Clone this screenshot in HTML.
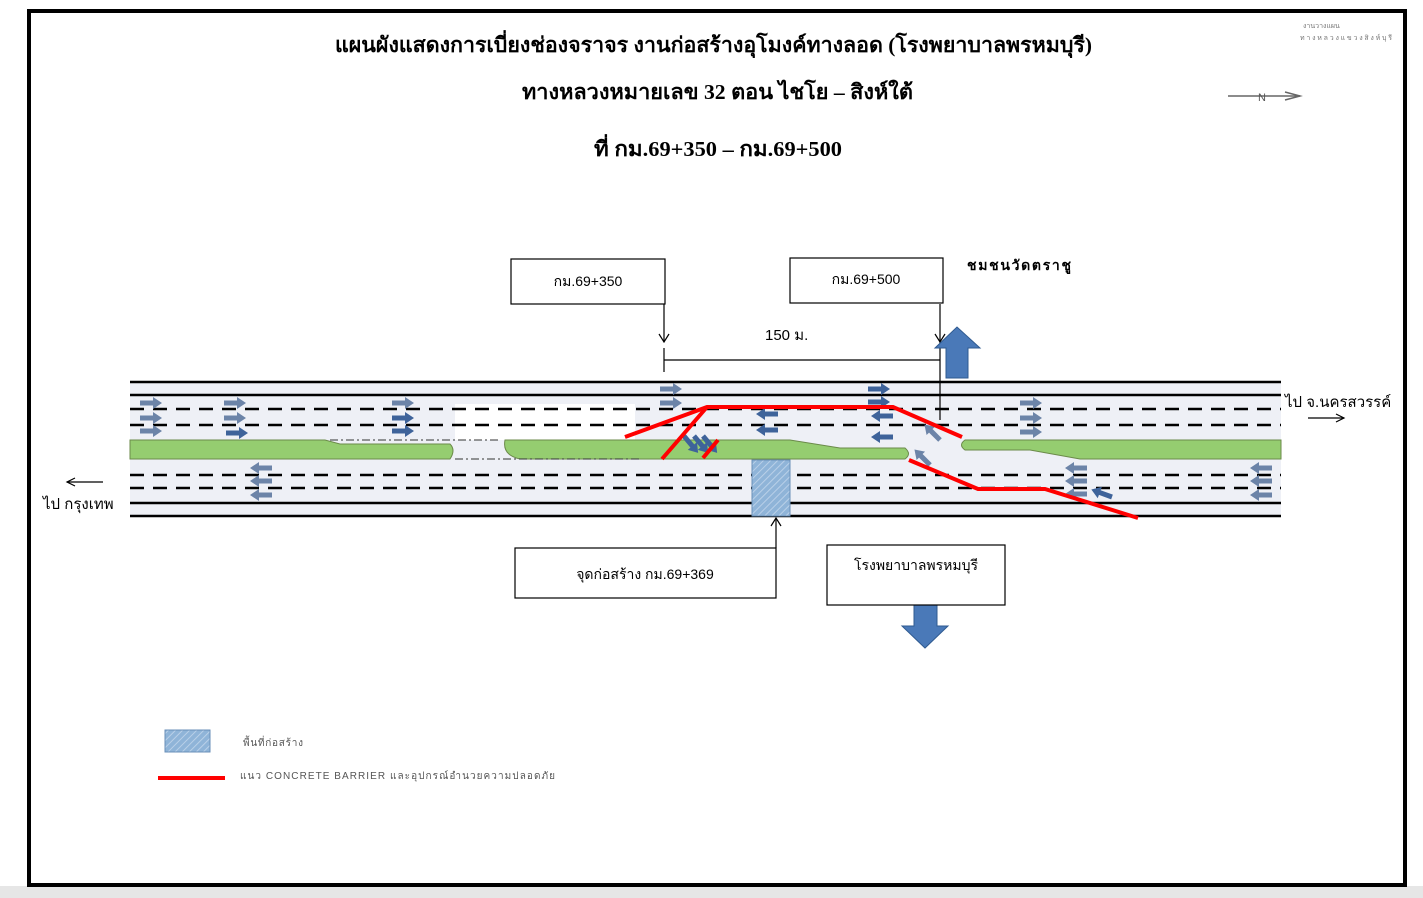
<!DOCTYPE html>
<html><head><meta charset="utf-8"><style>
html,body{margin:0;padding:0;background:#fff;}
svg{display:block;}
text{font-family:"Liberation Serif","Noto Serif CJK SC",serif;}
.s{font-family:"Liberation Sans","Noto Sans CJK SC",sans-serif;}
</style></head><body>
<svg width="1423" height="898" viewBox="0 0 1423 898" xmlns="http://www.w3.org/2000/svg">
<defs>
<path id="ar" d="M0,-2.5 H13 V-6 L22,0 L13,6 V2.5 H0 Z"/>
<pattern id="hatch" width="5" height="5" patternUnits="userSpaceOnUse" patternTransform="rotate(45)">
<rect width="5" height="5" fill="#8fb4d8"/><line x1="0" y1="0" x2="0" y2="5" stroke="#b9d0e8" stroke-width="2"/></pattern>
</defs>
<rect width="1423" height="898" fill="#fff"/>
<rect x="0" y="886" width="1423" height="12" fill="#e6e6e6"/>
<rect x="29" y="11" width="1376" height="874" fill="#fff" stroke="#000" stroke-width="4"/>

<text x="335" y="52" font-size="21" font-weight="bold" textLength="757" lengthAdjust="spacingAndGlyphs">แผนผังแสดงการเบี่ยงช่องจราจร งานก่อสร้างอุโมงค์ทางลอด (โรงพยาบาลพรหมบุรี)</text>
<text x="522" y="99" font-size="21" font-weight="bold" textLength="391" lengthAdjust="spacingAndGlyphs">ทางหลวงหมายเลข 32 ตอน ไชโย – สิงห์ใต้</text>
<text x="594" y="156" font-size="21" font-weight="bold" textLength="248" lengthAdjust="spacingAndGlyphs">ที่ กม.69+350 – กม.69+500</text>
<text x="1303" y="28" font-size="7" fill="#777">งานวางแผน</text>
<text x="1300" y="40" font-size="7" fill="#777" textLength="92">ทางหลวงแขวงสิงห์บุรี</text>
<g stroke="#666" stroke-width="1.5" fill="none"><line x1="1228" y1="96" x2="1300" y2="96"/><path d="M1285,92 L1300,96 L1285,100"/></g>
<text x="1258" y="101" class="s" font-size="11" fill="#555">N</text>

<rect x="130" y="382" width="1151" height="134" fill="#eef0f6"/>
<rect x="455" y="404" width="180" height="36" fill="#fff"/>
<g stroke="#000" stroke-width="2.5">
<line x1="130" y1="382" x2="1281" y2="382"/><line x1="130" y1="395" x2="1281" y2="395"/>
<line x1="130" y1="503" x2="1281" y2="503"/><line x1="130" y1="516" x2="1281" y2="516"/>
</g>
<g stroke="#000" stroke-width="2.5" stroke-dasharray="14,9">
<line x1="130" y1="409" x2="1281" y2="409"/><line x1="130" y1="425" x2="1281" y2="425"/>
<line x1="130" y1="475" x2="1281" y2="475"/><line x1="130" y1="488" x2="1281" y2="488"/>
</g>
<g fill="#95cd70" stroke="#6b8a4a" stroke-width="1">
<path d="M130,440 H325 L340,444 H450 Q456,450 450,459 H130 Z"/>
<path d="M505,440 H700 L790,440 L840,448 H905 Q912,454 905,459 H640 L520,459 Q502,455 505,440 Z"/>
<path d="M965,440 H1281 V459 H1080 L1030,450 H965 Q958,445 965,440 Z"/>
</g>
<g stroke="#333" stroke-width="1" stroke-dasharray="8,3,2,3"><line x1="330" y1="440" x2="500" y2="440"/><line x1="455" y1="459" x2="640" y2="459"/></g>
<rect x="752" y="460" width="38" height="56" fill="url(#hatch)" stroke="#6a8fb8"/>

<g fill="#6c84a8">
<use href="#ar" x="140" y="403"/><use href="#ar" x="140" y="418"/><use href="#ar" x="140" y="431"/>
<use href="#ar" x="224" y="403"/><use href="#ar" x="224" y="418"/>
<use href="#ar" x="392" y="403"/><use href="#ar" x="660" y="389"/><use href="#ar" x="660" y="403"/>
<use href="#ar" x="1020" y="403"/><use href="#ar" x="1020" y="418"/><use href="#ar" x="1020" y="432"/>
</g>
<g fill="#3e639a">
<use href="#ar" x="226" y="433"/><use href="#ar" x="392" y="418"/><use href="#ar" x="392" y="431"/>
<use href="#ar" x="868" y="389"/><use href="#ar" x="868" y="402"/>
</g>
<g fill="#6c84a8">
<use href="#ar" transform="translate(272,468) scale(-1,1)"/><use href="#ar" transform="translate(272,481) scale(-1,1)"/><use href="#ar" transform="translate(272,495) scale(-1,1)"/>
<use href="#ar" transform="translate(1087,468) scale(-1,1)"/><use href="#ar" transform="translate(1087,481) scale(-1,1)"/><use href="#ar" transform="translate(1087,494) scale(-1,1)"/>
<use href="#ar" transform="translate(1272,468) scale(-1,1)"/><use href="#ar" transform="translate(1272,481) scale(-1,1)"/><use href="#ar" transform="translate(1272,495) scale(-1,1)"/>
<use href="#ar" transform="translate(940,440) rotate(-135)"/><use href="#ar" transform="translate(930,465) rotate(-135)"/>
</g>
<g fill="#3e639a">
<use href="#ar" transform="translate(778,414) scale(-1,1)"/><use href="#ar" transform="translate(778,430) scale(-1,1)"/>
<use href="#ar" transform="translate(893,416) scale(-1,1)"/><use href="#ar" transform="translate(893,437) scale(-1,1)"/>
<use href="#ar" transform="translate(1112,497) rotate(-160)"/>
<use href="#ar" transform="translate(684,436) rotate(50)"/><use href="#ar" transform="translate(694,436) rotate(50)"/><use href="#ar" transform="translate(703,436) rotate(50)"/>
</g>
<g stroke="#f00" stroke-width="4" fill="none">
<polyline points="625,437 707,407 893,407 962,437"/>
<line x1="662" y1="459" x2="707" y2="407"/>
<line x1="703" y1="458" x2="718" y2="440"/>
<polyline points="909,460 978,489 1045,489 1138,518"/>
</g>

<g stroke="#000" stroke-width="1.2" fill="none">
<line x1="664" y1="304" x2="664" y2="342"/><path d="M659,334 L664,342 L669,334"/>
<line x1="664" y1="348" x2="664" y2="372"/><line x1="664" y1="360" x2="940" y2="360"/>
<line x1="940" y1="304" x2="940" y2="420"/><path d="M935,334 L940,342 L945,334"/>
<line x1="776" y1="548" x2="776" y2="518"/><path d="M771,526 L776,518 L781,526"/>
<line x1="1308" y1="418" x2="1344" y2="418"/><path d="M1336,414 L1344,418 L1336,422"/>
<line x1="67" y1="482" x2="103" y2="482"/><path d="M75,478 L67,482 L75,486"/>
</g>
<text x="765" y="340" class="s" font-size="15">150 ม.</text>

<path d="M946,378 V348 H935 L957,327 L980,348 H968 V378 Z" fill="#4a79b8" stroke="#2f5a90"/>
<path d="M914,605 V626 H902 L925,648 L948,626 H937 V605 Z" fill="#4a79b8" stroke="#2f5a90"/>

<g fill="#fff" stroke="#000" stroke-width="1.2">
<rect x="511" y="259" width="154" height="45"/><rect x="790" y="258" width="153" height="45"/>
<rect x="515" y="548" width="261" height="50"/><rect x="827" y="545" width="178" height="60"/>
</g>
<g font-size="14">
<text x="588" y="286" text-anchor="middle" class="s">กม.69+350</text>
<text x="866" y="284" text-anchor="middle" class="s">กม.69+500</text>
<text x="645" y="579" text-anchor="middle" class="s">จุดก่อสร้าง กม.69+369</text>
<text x="916" y="570" text-anchor="middle" class="s">โรงพยาบาลพรหมบุรี</text>
<text x="967" y="270" class="s" font-weight="bold" textLength="104">ชมชนวัดตราชู</text>
<text x="1285" y="407" class="s" font-size="15">ไป จ.นครสวรรค์</text>
<text x="43" y="509" class="s" font-size="15">ไป กรุงเทพ</text>
</g>

<rect x="165" y="730" width="45" height="22" fill="url(#hatch)" stroke="#6a8fb8"/>
<text x="243" y="746" class="s" font-size="10" fill="#555" textLength="60">พื้นที่ก่อสร้าง</text>
<line x1="158" y1="778" x2="225" y2="778" stroke="#f00" stroke-width="4"/>
<text x="240" y="779" class="s" font-size="10" fill="#555" textLength="315">แนว CONCRETE BARRIER และอุปกรณ์อำนวยความปลอดภัย</text>
</svg>
</body></html>
